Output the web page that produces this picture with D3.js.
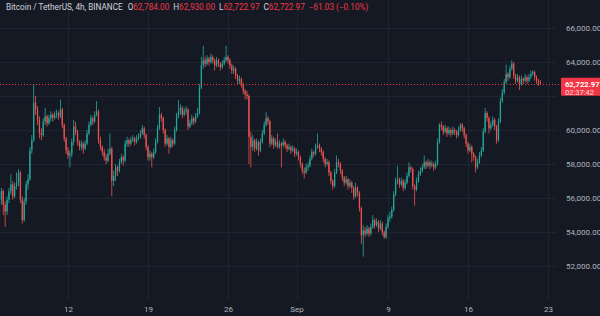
<!DOCTYPE html>
<html><head><meta charset="utf-8">
<script src="https://cdn.jsdelivr.net/npm/d3@7"></script>
<style>
html,body{margin:0;padding:0;background:#151924;overflow:hidden}
svg{display:block;font-family:Roboto,"Noto Sans",sans-serif}
</style></head><body>
<svg id="c" width="600" height="316"></svg>
<script>
// ---- data (BTC/USDT 4h candles, Aug 6 00:00 UTC onward) ----
const startUTC = "2024-08-06T00:00:00Z";
const firstOpen = 54800;
const closes = [
55900,56400,55600,55200,55900,56400, 56800,56100,56700,56900,57500,55900,
54700,55800,56800,57100,58800,59400, 61600,61200,60600,59800,59700,60500,
60800,60400,60700,60900,60700,60900, 61000,60800,61200,60300,59500,58800,
58500,58600,59300,60200,59900,59300, 59000,59200,58900,59200,59800,60300,
60700,60500,60900,61100,59400,59000, 58700,58400,58200,58600,58900,57000,
57300,57800,57600,58100,58400,58200, 59200,59400,59200,59400,59500,59300,
59500,59600,59800,60100,59700,59000, 58400,58600,58400,58700,59300,60100,
60900,60700,60000,59200,59500,59000, 59400,59200,60000,60800,61100,61300,
60900,61100,61200,60200,60400,60700, 60500,60800,61000,62500,63800,64100,
63900,64200,64000,64300,64100,63800, 64100,63900,63700,63900,64100,64300,
64100,63800,63500,63600,63200,62900, 63000,62700,62300,62100,62000,59600,
59000,59400,58900,59300,58800,59300, 59800,60300,60700,60500,59200,59500,
59100,59300,59000,59200,59100,59300, 59100,58900,59000,58800,58900,58600,
58700,58400,58000,57600,57500,57800, 57900,58300,58700,58600,59000,59100,
58900,58700,58300,58000,58100,57500, 57000,56700,57500,58100,58000,57600,
57200,56900,57100,56700,56900,56600, 56100,56600,56300,55400,53800,54100,
53900,54200,53900,54300,54700,54400, 54600,54200,54500,54000,53700,54300,
54800,54900,55300,56200,57000,57100, 56800,57000,56600,56900,57300,57800,
57700,56700,56500,57000,57400,57600, 57800,58100,57900,58100,57900,58000,
57800,58000,59300,60300,60200,59900, 60100,59800,60000,59800,60000,59900,
59700,60000,60300,60100,59700,59200, 58800,59000,58600,58400,57800,58100,
58500,58800,59900,61000,60700,60100, 60300,60600,60200,59400,60500,61700,
62200,62800,63300,63100,63600,63900, 63200,62900,63100,62700,63000,62900,
63100,62900,63100,63300,63400,63100, 62900,62784,62722.97
];
const highs = [
56300,56600,56500,55800,56100,56600, 57400,57000,56900,57500,57700,57600,
56100,56000,57000,57400,59000,59700, 62700,62000,61400,60800,60100,60700,
61300,60900,60900,61100,61000,61100, 61200,61100,61800,61300,60400,59600,
59000,58800,59500,60600,60500,60000, 59400,59400,59300,59400,60000,60500,
60900,60800,61100,61700,61200,59600, 59100,58900,58600,58900,59800,59000,
57600,58000,57900,58300,58600,58500, 59400,59600,59500,59600,59700,59600,
59700,59800,60000,60300,60200,59800, 59100,58800,58700,58900,59500,60300,
61350,61000,60800,60100,59700,59600, 59600,59500,60200,61000,61750,61500,
61400,61300,61400,61300,60600,60900, 60800,61000,61300,62700,64300,64950,
64300,64400,64300,64500,64400,64200, 64300,64200,64000,64100,64300,64950,
64400,64200,63900,63800,63700,63300, 63200,63100,62800,62400,62300,62100,
59900,59700,59500,59500,59400,59500, 60000,60500,61050,60800,60600,59700,
59600,59500,59800,59400,59300,59500, 59400,59200,59200,59100,59100,59000,
58900,58800,58500,58100,57800,58000, 58100,58500,58900,58800,59200,59800,
59200,59000,58800,58400,58300,58200, 57600,57100,57700,58500,58300,58100,
57700,57300,57300,57200,57100,57000, 56700,56900,56700,56400,55500,54400,
54300,54400,54300,54500,55000,54800, 54800,54700,54700,54600,54100,54500,
55000,55200,55500,56400,57200,57900, 57200,57200,57100,57100,57500,58100,
57900,57800,56800,57200,57600,57800, 58000,58500,58200,58300,58200,58200,
58100,58200,59500,60400,60500,60300, 60300,60200,60200,60100,60200,60100,
60000,60200,60400,60400,60200,59800, 59300,59200,59100,58700,58500,58300,
58700,59000,60100,61300,61100,60800, 60500,60800,60700,60300,60700,61900,
62400,63000,63850,63400,63800,64100, 64000,63300,63300,63200,63200,63100,
63300,63200,63300,63500,63500,63500, 63200,63000,62930
];
const lows = [
54000,55600,55000,54300,55000,55700, 56200,55900,56000,56500,56700,55700,
54500,54600,55600,56500,57000,58600, 59300,60900,60300,59500,59400,59600,
60300,60200,60300,60500,60500,60600, 60700,60600,60700,60100,59300,58600,
58300,57800,58400,59100,59700,59100, 58800,58800,58600,58800,59100,59700,
60200,60300,60400,60800,59200,58800, 58500,58200,58000,58100,58500,56100,
56700,57000,57300,57500,58000,57900, 58100,59000,59000,59100,59300,59100,
59200,59400,59500,59700,59500,58800, 58200,58200,57800,58300,58600,59200,
60000,60500,59800,59000,59100,58600, 58900,59000,59100,59900,60700,60900,
60700,60800,60900,60000,60100,60300, 60300,60400,60700,60900,62400,63600,
63700,63800,63800,63900,63900,63500, 63700,63700,63500,63600,63800,64000,
63900,63600,63300,63300,63000,62700, 62700,62500,62100,61800,61800,58000,
57800,58800,58700,58800,58500,58700, 59200,59700,60200,60300,59000,59100,
58900,59000,58900,58900,57800,59000, 58900,58700,58800,58600,58700,58400,
58500,58200,57800,57400,57150,57400, 57600,57800,58200,58400,58500,58900,
58700,58500,58100,57800,57900,57300, 56800,56500,56600,57400,57800,57400,
57000,56700,56800,56500,56600,56300, 55900,56000,56100,55200,53300,52550,
53700,53800,53700,53800,54200,54200, 54300,54000,54100,53800,53600,53600,
54200,54600,54800,55200,56100,56800, 56600,56700,56400,56500,56800,57200,
57500,56500,55550,56400,56900,57300, 57500,57700,57700,57800,57700,57800,
57600,57700,57900,59200,60000,59700, 59800,59600,59700,59600,59700,59700,
59500,59600,59900,59900,59500,59000, 58600,58700,58100,58200,57500,57700,
58000,58400,58700,59800,60500,59800, 60000,60200,60000,59200,59300,60400,
61600,62100,62700,62900,63000,63500, 63000,62700,62800,62350,62600,62700,
62800,62700,62800,63000,63200,62900, 62700,62600,62722.97
];
const priceTicks = [52000,54000,56000,58000,60000,62000,64000,66000];
const timeTickDates = ["2024-08-12","2024-08-19","2024-08-26","2024-09-01","2024-09-09","2024-09-16","2024-09-23"];
const timeTickLabels = ["12","19","26","Sep","9","16","23"];
const symbolTitle = "Bitcoin / TetherUS, 4h, BINANCE";
const countdown = "02:37:42";

// ---- build candles ----
const t0 = new Date(startUTC).getTime();
const candles = closes.map((c,i)=>({
  t: new Date(t0 + i*4*3600*1000),
  o: i===0 ? firstOpen : closes[i-1],
  h: highs[i], l: lows[i], c: c
}));

const W=600,H=316, plotR=557, plotB=300;
const svg = d3.select("#c");
const bg="#151924", grid="#1f2431", up="#26a69a", dn="#ef5350", txt="#b2b5be", red="#f23645";
svg.append("rect").attr("width",W).attr("height",H).attr("fill",bg);

const x = d3.scaleUtc()
  .domain([new Date("2024-08-12T00:00:00Z"), new Date("2024-08-19T00:00:00Z")])
  .range([68,148]);
const y = d3.scaleLinear().domain([52000,66000]).range([266,28]);

// grid
const gg = svg.append("g");
gg.selectAll("line.h").data(priceTicks).join("line")
  .attr("x1",0).attr("x2",plotR).attr("y1",d=>Math.round(y(d))+0.5).attr("y2",d=>Math.round(y(d))+0.5)
  .attr("stroke",grid).attr("stroke-width",1);
const tDates = timeTickDates.map(s=>new Date(s+"T00:00:00Z"));
gg.selectAll("line.v").data(tDates).join("line")
  .attr("x1",d=>Math.round(x(d))+0.5).attr("x2",d=>Math.round(x(d))+0.5).attr("y1",0).attr("y2",plotB)
  .attr("stroke",grid).attr("stroke-width",1);

// clip
svg.append("clipPath").attr("id","pc").append("rect").attr("x",0).attr("y",0).attr("width",plotR).attr("height",plotB);
const cg = svg.append("g").attr("clip-path","url(#pc)");
const bw = 1.3;
const cs = cg.selectAll("g.k").data(candles).join("g");
cs.append("rect")
  .attr("x",d=>x(d.t)-0.4).attr("width",0.8)
  .attr("y",d=>y(d.h)).attr("height",d=>Math.max(0.5,y(d.l)-y(d.h)))
  .attr("fill",d=>d.c>=d.o?up:dn);
cs.append("rect")
  .attr("x",d=>x(d.t)-bw/2).attr("width",bw)
  .attr("y",d=>y(Math.max(d.o,d.c))).attr("height",d=>Math.max(0.8,Math.abs(y(d.o)-y(d.c))))
  .attr("fill",d=>d.c>=d.o?up:dn);

// current price line
const last = candles[candles.length-1];
const prev = candles[candles.length-2];
const ly = y(last.c);
svg.append("line").attr("x1",0).attr("x2",561).attr("y1",Math.round(ly)+0.5).attr("y2",Math.round(ly)+0.5)
  .attr("stroke",red).attr("stroke-width",1).attr("stroke-dasharray","1,2");

// price axis
const fmt = d3.format(",.2f");
const ya = d3.axisRight(y).tickValues(priceTicks.filter(v=>Math.abs(y(v)-ly)>13))
  .tickSize(0).tickPadding(0).tickFormat(fmt);
const yg = svg.append("g").attr("transform","translate(566,0)").call(ya);
yg.select(".domain").remove();
yg.selectAll("text").attr("fill",txt).attr("font-size","8px").attr("font-family","Roboto,sans-serif");

// price label box
svg.append("rect").attr("x",561).attr("y",ly-6).attr("width",40).attr("height",18).attr("fill",red).attr("rx",1);
svg.append("text").attr("x",565).attr("y",ly+3).attr("fill","#fff").attr("font-size","7.6px").attr("font-weight","bold").text(fmt(last.c));
svg.append("text").attr("x",565).attr("y",ly+11.5).attr("fill","#fff").attr("fill-opacity",0.85).attr("font-size","7.5px").text(countdown);

// time axis
const xa = d3.axisBottom(x).tickValues(tDates).tickSize(0).tickPadding(6).tickFormat((d,i)=>timeTickLabels[i]);
const xg = svg.append("g").attr("transform",`translate(0,${plotB})`).call(xa);
xg.select(".domain").remove();
xg.selectAll("text").attr("fill",txt).attr("font-size","8px").attr("font-family","Roboto,sans-serif");

// header
const minus = v => (v<0?"\u2212":"") + fmt(Math.abs(v));
const chg = last.c - prev.c;
const pct = chg/prev.c*100;
const ht = svg.append("text").attr("x",6).attr("y",10).attr("font-size","8.2px").attr("fill","#d1d4dc");
ht.append("tspan").text(symbolTitle);
[["O",last.o],["H",last.h],["L",last.l],["C",last.c]].forEach(([k,v],i)=>{
  ht.append("tspan").attr("dx",i===0?5:4).attr("fill","#d1d4dc").text(k);
  ht.append("tspan").attr("fill",red).text(fmt(v));
});
ht.append("tspan").attr("dx",4).attr("fill",red).text(`${minus(chg)} (${pct<0?"\u2212":""}${Math.abs(pct).toFixed(2)}%)`);
</script>
</body></html>
